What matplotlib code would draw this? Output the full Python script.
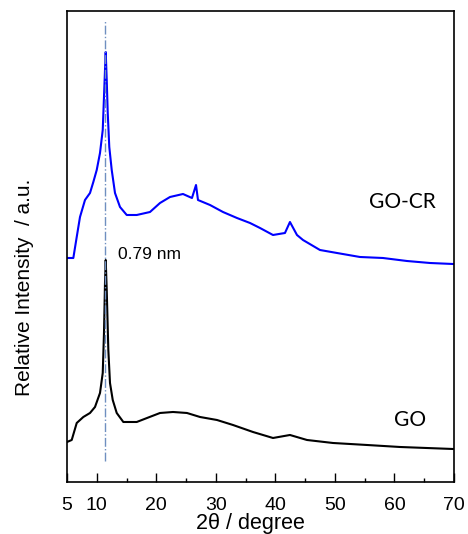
import matplotlib
matplotlib.use("Agg")
import matplotlib.pyplot as plt
from matplotlib.ticker import FixedLocator

plt.rcParams['font.family'] = ['Liberation Sans', 'DejaVu Sans']

# GO-CR (blue) trace: 2theta vs relative intensity (a.u.)
gocr_x = [5.0, 6.06, 6.63, 7.18, 8.02, 8.86, 9.42, 9.99, 10.54, 11.0, 11.21, 11.38,
          11.50, 11.67, 11.84, 12.10, 12.51, 13.06, 13.90, 15.03, 16.71, 18.94, 20.62,
          22.30, 24.48, 25.99, 26.67, 27.00, 29.02, 31.20, 33.55, 35.74, 37.42, 39.60,
          41.61, 42.45, 43.63, 44.64, 47.49, 50.35, 54.21, 58.07, 62.10, 65.97, 69.83]
gocr_y = [224, 224, 245, 265, 282, 289, 300, 312, 329, 352, 385, 412,
          430, 402, 369, 335, 312, 289, 275, 267, 267, 270, 279,
          285, 288, 284, 297, 282, 277, 270, 264, 259, 254, 247,
          249, 260, 247, 242, 232, 229, 225, 224, 221, 219, 218]

# GO (black) trace
go_x = [5.0, 5.79, 6.63, 7.74, 8.86, 9.70, 10.54, 11.0, 11.21, 11.38, 11.50, 11.67,
        11.94, 12.22, 12.68, 13.35, 14.46, 16.71, 18.44, 20.62, 22.80, 25.15, 27.34,
        30.19, 32.88, 36.24, 39.60, 42.45, 45.31, 49.68, 55.39, 60.93, 69.83]
go_y = [40, 42, 59, 65, 69, 75, 89, 109, 149, 199, 222, 192,
        132, 99, 82, 69, 60, 60, 64, 69, 70, 69, 65,
        62, 57, 50, 44, 47, 42, 39, 37, 35, 33]

peak_pos = 11.38
x_ticks = [5, 10, 20, 30, 40, 50, 60, 70]
x_minor = [15, 25, 35, 45, 55, 65]

fig = plt.figure(figsize=(4.68, 5.34), dpi=100)
ax = fig.add_axes([0.1432, 0.0974, 0.8268, 0.8820])

ax.plot(gocr_x, gocr_y, color='#0000ff', lw=1.5)
ax.plot(go_x, go_y, color='black', lw=1.5)
ax.plot([peak_pos, peak_pos], [21, 462], color='#6f8fc0', lw=1.0, ls='-.')

ax.set_xlim(5, 70)
ax.set_ylim(0, 471)
ax.set_yticks([])
ax.xaxis.set_major_locator(FixedLocator(x_ticks))
ax.xaxis.set_minor_locator(FixedLocator(x_minor))
ax.tick_params(axis='x', which='major', direction='in', length=6.5, width=1,
               labelsize=14, pad=11)
ax.tick_params(axis='x', which='minor', direction='in', length=3, width=1)
for s in ax.spines.values():
    s.set_linewidth(1.2)

ax.set_xlabel('2θ / degree', fontsize=15.5)
ax.xaxis.set_label_coords(0.475, -0.066)
ax.set_ylabel('Relative Intensity  / a.u.', fontsize=15)
ax.yaxis.set_label_coords(-0.085, 0.414)

ax.text(13.57, 227, '0.79 nm', fontsize=12.5, ha='left', va='center')
ax.text(61.3, 280, 'GO-CR', fontsize=15, ha='center', va='center', family=['Lato', 'DejaVu Sans'])
ax.text(62.6, 62, 'GO', fontsize=15, ha='center', va='center', family=['Lato', 'DejaVu Sans'])

fig.savefig('out.png', dpi=100)
